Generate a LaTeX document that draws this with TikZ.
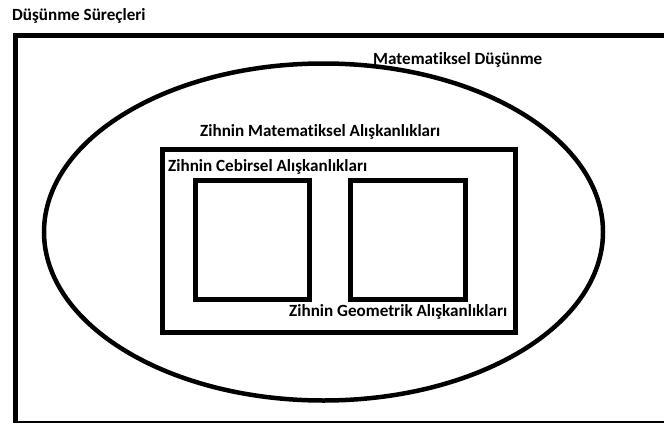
\documentclass[tikz,border=0pt]{standalone}
\usepackage{fontspec}
\setmainfont{Carlito}[Ligatures=NoCommon]
\usetikzlibrary{shapes.geometric}
\begin{document}
\begin{tikzpicture}[x=1pt,y=-1pt,
  frame/.style={draw=black,line width=4.5pt,fill=none},
  lbl/.style={font=\bfseries\fontsize{17.1}{20}\selectfont,text=black,inner sep=0pt}]
\useasboundingbox (0,0) rectangle (664,423);
\clip (0,0) rectangle (664,423);
\node[frame,minimum width=660pt,minimum height=388pt,inner sep=0pt,anchor=north west] (outer) at (13,33) {};
\node[frame,ellipse,minimum width=559pt,minimum height=337pt,inner sep=0pt] (ell) at (323.5,232) {};
\node[frame,minimum width=353pt,minimum height=183pt,inner sep=0pt,anchor=north west] (mid) at (160,147) {};
\node[frame,minimum width=114pt,minimum height=119pt,inner sep=0pt,anchor=north west] (sqa) at (193,178) {};
\node[frame,minimum width=115pt,minimum height=119pt,inner sep=0pt,anchor=north west] (sqb) at (348,178) {};
\node[lbl,anchor=west] (t1) at (12,16) {Düşünme Süreçleri};
\node[lbl,anchor=west] (t2) at (373,60) {Matematiksel Düşünme};
\node[lbl,anchor=west] (t3) at (200,132) {Zihnin Matematiksel Alışkanlıkları};
\node[lbl,anchor=west] (t4) at (168,167) {Zihnin Cebirsel Alışkanlıkları};
\node[lbl,anchor=west] (t5) at (289,312) {Zihnin Geometrik Alışkanlıkları};
\end{tikzpicture}
\end{document}
